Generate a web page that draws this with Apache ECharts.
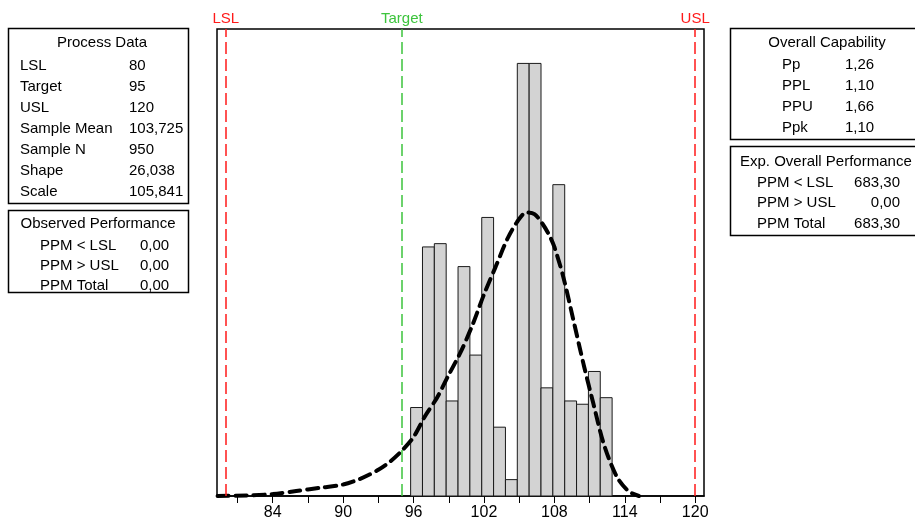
<!DOCTYPE html>
<html>
<head>
<meta charset="utf-8">
<script src="https://cdn.jsdelivr.net/npm/echarts@6/dist/echarts.min.js"></script>
<style>html,body{margin:0;padding:0;background:#fff;}#c{width:915px;height:529px;}</style>
</head>
<body>
<div id="c"></div>
<script>
// ---- data ----
const binEdges = [95.75, 96.76, 97.77, 98.78, 99.79, 100.8, 101.81, 102.82, 103.83, 104.84, 105.85, 106.86, 107.87, 108.88, 109.89, 110.9, 111.91, 112.92];
const counts = [27, 76, 77, 29, 70, 43, 85, 21, 5, 132, 132, 33, 95, 29, 28, 38, 30];
const curveX = [79.3, 82, 84, 86, 88, 90, 91.5, 93, 94, 95, 96, 97, 98, 99, 100, 101, 102, 103, 104, 104.8, 105.6, 106.3, 107, 107.6, 108, 108.75, 109.6, 110.5, 111.3, 112.2, 113.3, 114.3, 115.2];
const curveY = [0, 0.2, 0.6, 1.5, 2.5, 3.5, 5.3, 8, 10.5, 13.8, 18, 24.5, 30, 37, 43.8, 52, 61.5, 70, 78.5, 83.5, 86.5, 86, 83, 79.3, 76, 67, 54, 40, 28.5, 16, 6, 1.5, 0];
const specNames = ['LSL', 'Target', 'USL'];
const specValues = [80, 95, 120];
const tickValues = [81, 84, 87, 90, 93, 96, 99, 102, 105, 108, 111, 114, 117, 120];
const labelValues = [84, 90, 96, 102, 108, 114, 120];

const processLabels = ['LSL', 'Target', 'USL', 'Sample Mean', 'Sample N', 'Shape', 'Scale'];
const processValues = ['80', '95', '120', '103,725', '950', '26,038', '105,841'];
const observedLabels = ['PPM < LSL', 'PPM > USL', 'PPM Total'];
const observedValues = ['0,00', '0,00', '0,00'];
const capLabels = ['Pp', 'PPL', 'PPU', 'Ppk'];
const capValues = ['1,26', '1,10', '1,66', '1,10'];
const expLabels = ['PPM < LSL', 'PPM > USL', 'PPM Total'];
const expValues = ['683,30', '0,00', '683,30'];

// ---- chart ----
const FONT = '"Liberation Sans", Arial, sans-serif';
const chart = echarts.init(document.getElementById('c'), null, {renderer: 'canvas'});

const barData = counts.map((c, i) => [binEdges[i], binEdges[i + 1], c]);
const curveData = curveX.map((x, i) => [x, curveY[i]]);
const specColors = ['#ff1a1a', '#3dc43d', '#ff1a1a'];

function txt(x, y, s, align) {
  return {type: 'text', x: x, y: y, style: {text: s, font: '15px ' + FONT, fill: '#000', align: align || 'left', verticalAlign: 'middle'}};
}
function box(x, y, w, h) {
  return {type: 'rect', shape: {x: x, y: y, width: w, height: h}, style: {fill: '#fff', stroke: '#000', lineWidth: 1.5}};
}
const g = [];
// Process data box
g.push(box(8.5, 28.5, 180, 175));
g.push(txt(102, 43, 'Process Data', 'center'));
processLabels.forEach((l, i) => { g.push(txt(20, 65.5 + i * 21, l)); g.push(txt(129, 65.5 + i * 21, processValues[i])); });
// Observed performance
g.push(box(8.5, 210.5, 180, 82));
g.push(txt(98, 224, 'Observed Performance', 'center'));
observedLabels.forEach((l, i) => { g.push(txt(40, 245.5 + i * 20, l)); g.push(txt(140, 245.5 + i * 20, observedValues[i])); });
// Overall capability
g.push(box(730.5, 28.5, 200, 111));
g.push(txt(827, 43, 'Overall Capability', 'center'));
capLabels.forEach((l, i) => { g.push(txt(782, 65 + i * 21, l)); g.push(txt(845, 65 + i * 21, capValues[i])); });
// Exp overall performance
g.push(box(730.5, 146.5, 200, 89));
g.push(txt(740, 162, 'Exp. Overall Performance'));
expLabels.forEach((l, i) => { g.push(txt(757, 182.5 + i * 20.5, l)); g.push(txt(900, 182.5 + i * 20.5, expValues[i], 'right')); });

const option = {
  backgroundColor: '#fff',
  animation: false,
  grid: {left: 217, right: 211, top: 29, bottom: 33, show: true, borderColor: '#000', borderWidth: 1.5, backgroundColor: 'transparent'},
  xAxis: {
    type: 'value', min: 79.25, max: 120.75,
    axisLine: {show: true, lineStyle: {color: '#000', width: 1.5}},
    axisTick: {show: true, customValues: tickValues, length: 7, lineStyle: {color: '#000', width: 1}},
    axisLabel: {show: true, customValues: labelValues, color: '#000', fontSize: 16, fontFamily: FONT, margin: 9},
    splitLine: {show: false}
  },
  yAxis: {type: 'value', min: 0, max: 142.5, show: false, splitLine: {show: false}},
  series: [
    {
      type: 'custom',
      data: barData,
      z: 2,
      renderItem: function (params, api) {
        const p1 = api.coord([api.value(0), api.value(2)]);
        const p2 = api.coord([api.value(1), 0]);
        return {type: 'rect', shape: {x: p1[0], y: p1[1], width: p2[0] - p1[0], height: p2[1] - p1[1]},
          style: {fill: '#d3d3d3', stroke: '#1a1a1a', lineWidth: 1}};
      }
    },
    {
      type: 'line',
      data: curveData,
      smooth: 0.3,
      symbol: 'none',
      z: 4,
      lineStyle: {color: '#000', width: 4, type: [11, 7], cap: 'round'},
      markLine: {
        silent: true,
        symbol: 'none',
        animation: false,
        data: specValues.map((v, i) => ({
          xAxis: v,
          lineStyle: {color: specColors[i], width: 1.5, type: [12, 5]},
          label: {show: true, position: 'end', formatter: specNames[i], color: specColors[i], fontSize: 15, fontFamily: FONT, distance: 3}
        }))
      }
    }
  ],
  graphic: g
};
chart.setOption(option);
</script>
</body>
</html>
